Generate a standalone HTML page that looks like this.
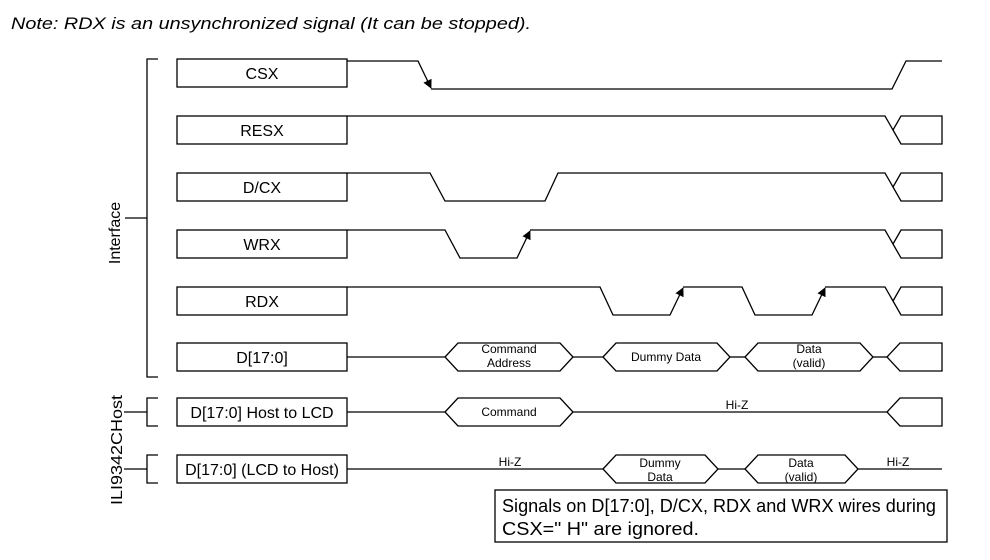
<!DOCTYPE html>
<html><head><meta charset="utf-8"><style>
html,body{margin:0;padding:0;background:#fff;}
svg{display:block;}
text{font-family:"Liberation Sans",Arial,sans-serif;fill:#000;}
</style></head><body>
<svg width="990" height="560" viewBox="0 0 990 560" xmlns="http://www.w3.org/2000/svg">
<defs>
<marker id="ar" viewBox="0 0 10 10" refX="9" refY="5" markerWidth="9" markerHeight="9" orient="auto-start-reverse" markerUnits="userSpaceOnUse"><path d="M0,0 L10,5 L0,10 z" fill="#000"/></marker>
</defs>
<text x="11" y="29" font-size="17" font-style="italic" textLength="520" lengthAdjust="spacingAndGlyphs">Note: RDX is an unsynchronized signal (It can be stopped).</text>
<g fill="none" stroke="#000" stroke-width="1.3">
<polyline points="158,59 147,59 147,377 158,377"/>
<line x1="125" y1="218" x2="147" y2="218"/>
<polyline points="158,398 147,398 147,426 158,426"/>
<polyline points="158,455 147,455 147,483 158,483"/>
<line x1="124" y1="412" x2="147" y2="412"/>
<line x1="124" y1="469" x2="147" y2="469"/>
<rect x="177" y="59" width="170" height="28"/>
<rect x="177" y="116" width="170" height="28"/>
<rect x="177" y="173" width="170" height="28"/>
<rect x="177" y="230" width="170" height="28"/>
<rect x="177" y="287" width="170" height="28"/>
<rect x="177" y="343" width="170" height="28"/>
<rect x="177" y="398" width="170" height="28"/>
<rect x="177" y="455" width="170" height="28"/>
<polyline points="347,61 418,61 431,88" marker-end="url(#ar)"/>
<polyline points="431,89 892,89 906,61 942,61"/>
<polyline points="347,116 885,116 893,130 901,144 942,144 942,116 901,116 893,130"/>
<polyline points="347,173 430,173 445,201 545,201 558,173 885,173 893,187 901,201 942,201 942,173 901,173 893,187"/>
<polyline points="347,230 445,230 460,258 517,258 530,231" marker-end="url(#ar)"/>
<polyline points="530,230 885,230 893,244 901,258 942,258 942,230 901,230 893,244"/>
<polyline points="347,287 600,287 613,315 670,315 683,288" marker-end="url(#ar)"/>
<polyline points="683,287 742,287 755,315 812,315 825,288" marker-end="url(#ar)"/>
<polyline points="825,287 885,287 893,301 901,315 942,315 942,287 901,287 893,301"/>
<line x1="347" y1="357" x2="445" y2="357"/>
<polygon points="445,357 458,343 560,343 573,357 560,371 458,371"/>
<line x1="573" y1="357" x2="603" y2="357"/>
<polygon points="603,357 616,343 717,343 730,357 717,371 616,371"/>
<line x1="730" y1="357" x2="745" y2="357"/>
<polygon points="745,357 758,343 860,343 873,357 860,371 758,371"/>
<line x1="873" y1="357" x2="887" y2="357"/>
<polyline points="887,357 900,343 942,343 942,371 900,371 887,357"/>
<line x1="347" y1="412" x2="445" y2="412"/>
<polygon points="445,412 458,398 560,398 573,412 560,426 458,426"/>
<line x1="573" y1="412" x2="887" y2="412"/>
<polyline points="887,412 900,398 942,398 942,426 900,426 887,412"/>
<line x1="347" y1="469" x2="603" y2="469"/>
<polygon points="603,469 616,455 705,455 718,469 705,483 616,483"/>
<line x1="718" y1="469" x2="745" y2="469"/>
<polygon points="745,469 758,455 845,455 858,469 845,483 758,483"/>
<line x1="858" y1="469" x2="942" y2="469"/>
<rect x="495" y="490" width="452" height="52"/>
</g>
<g font-size="16" text-anchor="middle">
<text x="262" y="79">CSX</text>
<text x="262" y="136">RESX</text>
<text x="262" y="193">D/CX</text>
<text x="262" y="250">WRX</text>
<text x="262" y="307">RDX</text>
<text x="262" y="363">D[17:0]</text>
<text x="262" y="418">D[17:0] Host to LCD</text>
<text x="262" y="475">D[17:0] (LCD to Host)</text>
</g>
<text transform="translate(120,233) rotate(-90)" font-size="16" text-anchor="middle">Interface</text>
<text transform="translate(122,450) rotate(-90)" font-size="16" text-anchor="middle" textLength="110" lengthAdjust="spacingAndGlyphs">ILI9342CHost</text>
<g font-size="12" text-anchor="middle">
<text x="509" y="353">Command</text>
<text x="509" y="367">Address</text>
<text x="666" y="361">Dummy Data</text>
<text x="809" y="353">Data</text>
<text x="809" y="367">(valid)</text>
<text x="509" y="416">Command</text>
<text x="737" y="409">Hi-Z</text>
<text x="510" y="466">Hi-Z</text>
<text x="660" y="467">Dummy</text>
<text x="660" y="481">Data</text>
<text x="801" y="467">Data</text>
<text x="801" y="481">(valid)</text>
<text x="898" y="466">Hi-Z</text>
</g>
<g font-size="18">
<text x="502" y="512" textLength="434" lengthAdjust="spacingAndGlyphs">Signals on D[17:0], D/CX, RDX and WRX wires during</text>
<text x="502" y="535" textLength="197" lengthAdjust="spacingAndGlyphs">CSX=" H"  are ignored.</text>
</g>
</svg>
</body></html>
